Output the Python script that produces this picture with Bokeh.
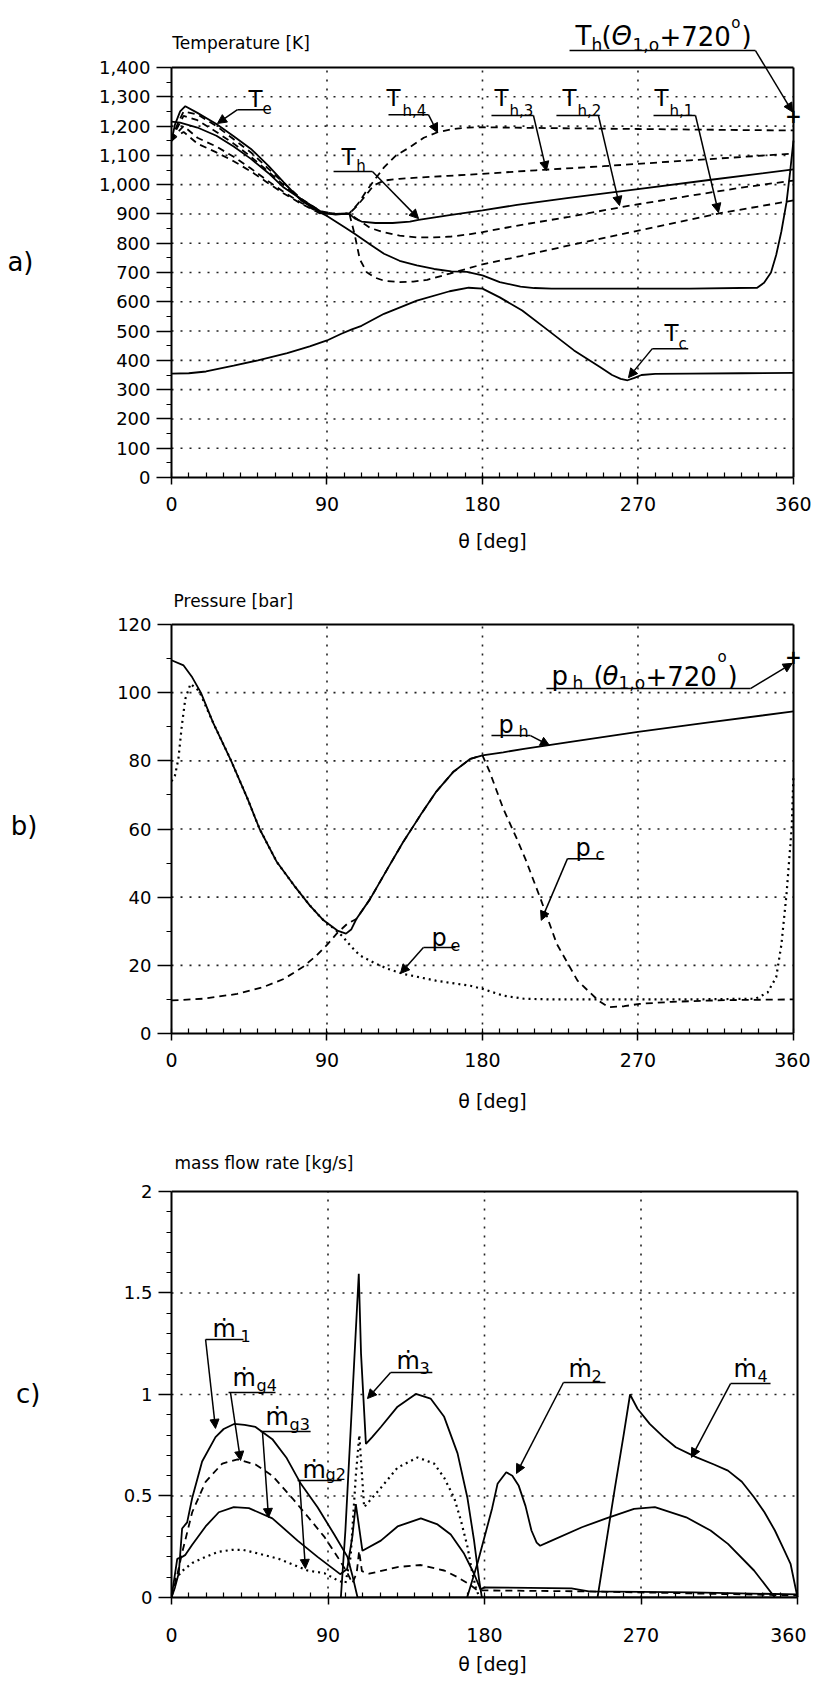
from bokeh.plotting import figure
from bokeh.models import (Label, Arrow, NormalHead, FixedTicker, NumeralTickFormatter,
                          Range1d, LinearAxis)
from bokeh.layouts import column
from bokeh.embed import file_html
from bokeh.resources import INLINE

FONT = "DejaVu Sans"

# ---------------- panel a : temperature [K] ----------------
theta_Te = [0, 2, 5, 8, 15, 26, 36, 46, 56, 65, 75, 86, 90, 100, 106, 115, 123, 132, 142, 152,
            162, 171, 180, 190, 202, 210, 220, 260, 300, 339, 343, 347, 350, 353, 356, 358, 360]
Te = [1150, 1205, 1250, 1268, 1245, 1207, 1165, 1122, 1065, 1008, 946, 905, 893, 855, 832, 796, 764, 740, 724, 712,
      704, 702, 690, 667, 652, 647, 645, 645, 645, 648, 665, 700, 760, 840, 940, 1040, 1150]

theta_Th = [0, 5, 15, 26, 36, 46, 56, 65, 75, 86, 90, 95, 100, 103, 106, 110, 118, 128, 138, 143,
            160, 180, 200, 230, 270, 310, 360]
Th = [1215, 1212, 1195, 1167, 1130, 1088, 1040, 990, 951, 910, 902, 898, 900, 900, 885, 874, 869, 869, 874, 880,
      895, 912, 931, 955, 985, 1015, 1052]

theta_Th4 = [0, 3, 7, 15, 26, 36, 46, 56, 65, 75, 86, 95, 103, 108, 113, 118, 123, 130, 138, 146,
             154, 163, 172, 180, 220, 270, 320, 360]
Th4 = [1150, 1200, 1250, 1240, 1200, 1155, 1110, 1055, 1005, 952, 910, 900, 902, 935, 980, 1020, 1059, 1100, 1128, 1160,
       1179, 1190, 1195, 1196, 1193, 1190, 1187, 1185]

theta_Th3 = [0, 3, 7, 15, 26, 36, 46, 56, 65, 75, 86, 95, 103, 107, 110, 114, 117, 123, 132, 142,
             160, 180, 211, 250, 300, 360]
Th3 = [1150, 1190, 1235, 1220, 1180, 1140, 1095, 1045, 998, 950, 908, 900, 902, 925, 946, 975, 997, 1014, 1020, 1024,
       1030, 1037, 1049, 1063, 1083, 1106]

theta_Th2 = [0, 3, 7, 15, 26, 36, 46, 56, 65, 75, 86, 95, 103, 108, 115, 123, 132, 142, 152, 162,
             172, 180, 202, 230, 262, 300, 330, 360]
Th2 = [1150, 1175, 1200, 1160, 1130, 1095, 1055, 1012, 975, 938, 903, 900, 900, 880, 852, 837, 826, 820, 820, 823,
       830, 838, 862, 890, 925, 962, 990, 1014]

theta_Th1 = [0, 3, 7, 15, 26, 36, 46, 56, 65, 75, 86, 95, 103, 106, 109, 113, 118, 123, 132, 140,
             148, 161, 180, 202, 240, 280, 317, 360]
Th1 = [1150, 1165, 1180, 1140, 1110, 1080, 1045, 1005, 970, 935, 902, 900, 900, 830, 745, 701, 682, 672, 667, 669,
       675, 696, 728, 756, 805, 855, 902, 946]

theta_Tc = [0, 10, 20, 36, 50, 67, 80, 90, 98, 104, 110, 123, 142, 161, 172, 180, 190, 203, 215, 233,
            248, 255, 260, 264, 268, 272, 280, 300, 330, 360]
Tc = [355, 356, 362, 382, 400, 425, 448, 468, 490, 505, 518, 559, 604, 636, 648, 645, 615, 570, 516, 434,
      377, 350, 337, 332, 340, 350, 354, 355, 356, 357]

Th_720 = 1235          # T_h(theta_1,0 + 720 deg), marked "+"

T_ticks = list(range(0, 1401, 100))
T_minor = list(range(0, 1401, 50))
T_grid = list(range(100, 1301, 100))

# ---------------- panel b : pressure [bar] ----------------
theta_ph = [0, 7, 12, 17, 24, 34, 44, 51, 61, 71, 80, 88, 96, 101, 104, 107, 115, 125, 134, 144,
            153, 163, 173, 180, 192, 204, 230, 270, 310, 360]
ph = [109.5, 108, 104.5, 100, 91.3, 80.6, 68.9, 60, 50.3, 43.4, 37.6, 33.2, 30.2, 29.3, 30.5, 33.6, 39.5, 48.3, 56.1, 64,
      70.8, 76.7, 80.6, 81.6, 82.5, 83.5, 85.5, 88.5, 91.2, 94.5]

theta_pc = [0, 18, 38, 53, 65, 76, 84, 90, 96, 102, 107, 115, 125, 134, 144, 153, 163, 173, 180, 184,
            192, 200, 205, 214, 223, 235, 247, 253, 262, 271, 290, 320, 360]
pc = [9.7, 10.2, 11.6, 13.6, 16, 19.5, 22.9, 26, 29.5, 32.3, 33.6, 39.5, 48.3, 56.1, 64, 70.8, 76.7, 80.6, 81.6, 77,
      66, 57, 51, 39, 26.3, 15.5, 9.7, 7.7, 8, 8.7, 9.3, 9.8, 10]

theta_pe = [0, 2, 4, 6, 8, 11, 16, 24, 34, 44, 51, 61, 71, 80, 88, 95, 99, 104, 109, 117,
            125, 134, 153, 173, 180, 192, 204, 220, 260, 300, 338, 345, 350, 353, 356, 359, 360]
pe = [74, 75.7, 80.6, 90.4, 98.2, 102.6, 100.5, 91.3, 80.6, 68.9, 60, 50.3, 43.4, 37.6, 33.2, 30.4, 28.5, 25.5, 22.9, 20.8,
      19, 17.5, 15.5, 14, 13.1, 11.1, 10.2, 10, 10, 10, 10.2, 12, 16.5, 26, 41, 60.5, 76]

ph_720 = 110.5         # p_h(theta_1,0 + 720 deg), marked "+"

P_ticks = list(range(0, 121, 20))
P_minor = list(range(0, 121, 10))
P_grid = list(range(20, 101, 20))

# ---------------- panel c : mass flow rate [kg/s] ----------------
theta_m1 = [0, 2, 4.2, 6.1, 9, 11.9, 17.6, 25.3, 30, 36, 42, 48.3, 58, 66, 74.4, 84, 93.6, 101.2, 104, 107, 360]
m1 = [0, 0.05, 0.12, 0.34, 0.37, 0.49, 0.67, 0.79, 0.83, 0.855, 0.85, 0.84, 0.78, 0.69, 0.56, 0.445, 0.31, 0.2, 0.11, 0, 0]

theta_mg4 = [0, 3, 6.1, 11.9, 19.6, 29.2, 38, 48.3, 58, 69.4, 78.2, 87.8, 95.5, 101.2, 104, 106.5, 107.9, 109.5, 113.7, 130,
             143.4, 156.8, 164.5, 172.2, 176, 180, 240, 300, 360]
mg4 = [0, 0.1, 0.22, 0.42, 0.57, 0.66, 0.68, 0.655, 0.6, 0.49, 0.40, 0.30, 0.2, 0.12, 0.07, 0.12, 0.23, 0.13, 0.117, 0.15,
       0.16, 0.133, 0.1, 0.06, 0.035, 0.035, 0.03, 0.02, 0.01]

theta_mg3 = [0, 3.3, 6.1, 8, 11.9, 19.6, 27.2, 35.8, 44.5, 58, 72.5, 84, 97, 101, 104, 106, 109.8, 120.4, 130, 143.4,
             153, 160.6, 168.3, 174, 177.7, 180, 230, 240, 300, 360]
mg3 = [0, 0.19, 0.2, 0.21, 0.26, 0.35, 0.42, 0.445, 0.44, 0.39, 0.28, 0.2, 0.115, 0.14, 0.3, 0.46, 0.23, 0.28, 0.35, 0.39,
       0.36, 0.31, 0.215, 0.117, 0.04, 0.05, 0.045, 0.03, 0.025, 0.015]

theta_mg2 = [0, 2.3, 6, 11.9, 19.6, 27, 34.9, 41, 48.3, 61.8, 78.2, 87.8, 95.5, 100, 103, 106, 108, 110.8, 120.4, 130,
             141.5, 151, 156.8, 162.6, 166.4, 170.2, 173, 175, 177]
mg2 = [0, 0.09, 0.13, 0.17, 0.2, 0.225, 0.235, 0.235, 0.22, 0.19, 0.133, 0.12, 0.085, 0.07, 0.2, 0.6, 0.8, 0.445, 0.54, 0.64,
       0.69, 0.66, 0.59, 0.49, 0.38, 0.25, 0.12, 0.05, 0]

theta_m3 = [97.4, 100, 103, 105, 107.7, 109, 111.8, 115.4, 120.4, 130, 140.5, 149, 156.8, 164.5, 170.2, 174, 177, 178.5]
m3 = [0, 0.33, 0.82, 1.15, 1.595, 1.2, 0.757, 0.79, 0.84, 0.94, 1.003, 0.98, 0.89, 0.71, 0.49, 0.28, 0.08, 0]

theta_m2 = [170, 176, 181, 184.4, 187.5, 192.5, 196, 199.7, 203.6, 207, 210, 212, 216, 236, 250, 266, 278, 296, 310, 320, 335, 347]
m2 = [0, 0.17, 0.33, 0.44, 0.56, 0.617, 0.6, 0.55, 0.45, 0.33, 0.27, 0.255, 0.27, 0.346, 0.39, 0.437, 0.445, 0.395, 0.33, 0.264, 0.133, 0]

theta_m4 = [245, 250, 255, 260, 263.7, 268, 275, 283, 290, 302, 312, 320, 328, 335, 341, 347, 352, 356, 360]
m4 = [0, 0.27, 0.54, 0.8, 1.0, 0.93, 0.855, 0.79, 0.74, 0.69, 0.655, 0.625, 0.57, 0.494, 0.42, 0.33, 0.24, 0.166, 0]

M_ticks = [0, 0.5, 1, 1.5, 2]
M_minor = [i / 10 for i in range(0, 21)]
M_grid = [0.5, 1, 1.5]

theta_ticks = [0, 90, 180, 270, 360]
theta_minor = list(range(0, 361, 10))
theta_grid = [90, 180, 270]

GRID = dict(line_color="#222222", line_dash="2 7", line_width=1.6)


# ---------------- helpers ----------------
def make_fig(fh, fw, left, bottom, xmax, ymax, yticks, yminor, ygrid, yfmt,
             ytick_out, ystand, xstand, xlabstand, letter, letter_y, letter_stand):
    x0, x1 = theta_ticks[0], theta_ticks[-1]
    y0, y1 = yticks[0], yticks[-1]
    p = figure(frame_width=fw, frame_height=fh, x_range=Range1d(0, xmax), y_range=Range1d(0, ymax),
               output_backend="svg", toolbar_location=None, title=None,
               min_border_left=left, min_border_right=0, min_border_top=0, min_border_bottom=bottom)
    p.background_fill_color = "white"
    p.border_fill_color = "white"
    p.outline_line_color = None
    p.xgrid.visible = False
    p.ygrid.visible = False

    # dotted grid lines inside the 0..360 x 0..max box
    p.segment(x0=theta_grid, y0=[y0] * len(theta_grid), x1=theta_grid, y1=[y1] * len(theta_grid), **GRID)
    p.segment(x0=[x0] * len(ygrid), y0=ygrid, x1=[x1] * len(ygrid), y1=ygrid, **GRID)

    xa = p.xaxis[0]
    xa.bounds = (x0, x1)
    xa.ticker = FixedTicker(ticks=theta_ticks, minor_ticks=theta_minor)
    xa.axis_line_width = 2
    xa.major_tick_out = 7
    xa.major_tick_in = 0
    xa.minor_tick_in = 5
    xa.minor_tick_out = 0
    xa.major_tick_line_width = 1.5
    xa.minor_tick_line_width = 1.2
    xa.major_label_text_font = FONT
    xa.major_label_text_font_size = "19px"
    xa.major_label_text_color = "black"
    xa.major_label_standoff = xstand
    xa.axis_label = "θ [deg]"
    xa.axis_label_text_font = FONT
    xa.axis_label_text_font_size = "19px"
    xa.axis_label_text_font_style = "normal"
    xa.axis_label_text_color = "black"
    xa.axis_label_standoff = xlabstand

    ya = p.yaxis[0]
    ya.bounds = (y0, y1)
    ya.ticker = FixedTicker(ticks=yticks, minor_ticks=yminor)
    ya.formatter = NumeralTickFormatter(format=yfmt)
    ya.axis_line_width = 2
    ya.major_tick_out = ytick_out
    ya.major_tick_in = 0
    ya.minor_tick_out = 5
    ya.minor_tick_in = 0
    ya.major_tick_line_width = 1.5
    ya.minor_tick_line_width = 1.2
    ya.major_label_text_font = FONT
    ya.major_label_text_font_size = "18px"
    ya.major_label_text_color = "black"
    ya.major_label_standoff = ystand

    # frame: right and top border lines as bare axes at fixed locations
    right = LinearAxis(fixed_location=x1, bounds=(y0, y1), ticker=FixedTicker(ticks=[], minor_ticks=[]),
                       axis_line_width=2, major_tick_out=0, major_tick_in=0, minor_tick_out=0,
                       minor_tick_in=0, major_label_text_font_size="0px")
    p.add_layout(right, "left")
    top = LinearAxis(fixed_location=y1, bounds=(x0, x1), ticker=FixedTicker(ticks=[], minor_ticks=[]),
                     axis_line_width=2, major_tick_out=0, major_tick_in=0, minor_tick_out=0,
                     minor_tick_in=0, major_label_text_font_size="0px")
    p.add_layout(top, "below")

    # panel letter as the only tick label of an extra, invisible left axis
    lab = LinearAxis(ticker=FixedTicker(ticks=[letter_y], minor_ticks=[]),
                     major_label_overrides={letter_y: letter},
                     axis_line_color=None, major_tick_line_color=None, minor_tick_line_color=None,
                     major_tick_out=0, major_tick_in=0, minor_tick_out=0, minor_tick_in=0,
                     major_label_text_font=FONT, major_label_text_font_size="26px",
                     major_label_text_color="black", major_label_standoff=letter_stand)
    p.add_layout(lab, "left")
    return p


def txt(p, x, y, s, size, align="left", baseline="alphabetic", style="normal"):
    p.add_layout(Label(x=x, y=y, text=s, text_font=FONT, text_font_size=f"{size}px",
                       text_align=align, text_baseline=baseline, text_font_style=style,
                       text_color="black"))


def seg(p, x0, y0, x1, y1, head=False):
    end = NormalHead(size=9, fill_color="black", line_color="black", line_width=1) if head else None
    p.add_layout(Arrow(x_start=x0, y_start=y0, x_end=x1, y_end=y1, line_width=1.5,
                       line_color="black", end=end))


SOLID = dict(line_color="black", line_width=1.8)
DASH = dict(line_color="black", line_width=1.8, line_dash="7 5")
DOT = dict(line_color="black", line_width=2.2, line_dash="2 4")

# ---------------- figure a ----------------
fa = make_fig(477, 642, 171, 83, 371.6, 1628.8, T_ticks, T_minor, T_grid, "0,0",
              15, 6, 12, 16, "a)", 737, 62)
fa.line(theta_Tc, Tc, **SOLID)
fa.line(theta_Te, Te, **SOLID)
fa.line(theta_Th, Th, **SOLID)
fa.line(theta_Th4, Th4, **DASH)
fa.line(theta_Th3, Th3, **DASH)
fa.line(theta_Th2, Th2, **DASH)
fa.line(theta_Th1, Th1, **DASH)

txt(fa, 0.5, 1485, "Temperature [K]", 17, baseline="middle")

# T_e
txt(fa, 48.6, 1294, "T", 23, align="center")
txt(fa, 52.7, 1263, "e", 15)
seg(fa, 38.2, 1256, 54.4, 1256)
seg(fa, 38.2, 1256, 26.6, 1209, head=True)
# T_h,4
txt(fa, 128.5, 1297, "T", 23, align="center")
txt(fa, 133.7, 1250, "h,4", 15)
seg(fa, 125.6, 1239, 148.7, 1239)
seg(fa, 148.7, 1239, 154, 1178, head=True)
# T_h
txt(fa, 102.4, 1093, "T", 23, align="center")
txt(fa, 107.0, 1062, "h", 15)
seg(fa, 93.8, 1045, 116.3, 1045)
seg(fa, 116.3, 1045, 143, 884, head=True)
# T_h,3
txt(fa, 191, 1297, "T", 23, align="center")
txt(fa, 195.6, 1250, "h,3", 15)
seg(fa, 185.2, 1236, 209.5, 1236)
seg(fa, 209.5, 1236, 217, 1048, head=True)
# T_h,2
txt(fa, 230.4, 1297, "T", 23, align="center")
txt(fa, 235.0, 1250, "h,2", 15)
seg(fa, 222.8, 1236, 247.1, 1236)
seg(fa, 247.1, 1236, 259.3, 929, head=True)
# T_h,1
txt(fa, 283.6, 1297, "T", 23, align="center")
txt(fa, 288.2, 1250, "h,1", 15)
seg(fa, 279.0, 1236, 303.3, 1236)
seg(fa, 303.3, 1236, 316.6, 905, head=True)
# T_c
txt(fa, 289.4, 492, "T", 23, align="center")
txt(fa, 293.4, 457, "c", 15)
seg(fa, 278.3, 440, 299.1, 440)
seg(fa, 278.3, 440, 264.5, 341, head=True)
# T_h(Theta_1,0 + 720 deg)
txt(fa, 233.8, 1509, "T", 26)
txt(fa, 243.1, 1478, "h", 17)
txt(fa, 248.9, 1509, "(", 26)
txt(fa, 254.7, 1509, "Θ", 26, style="italic")
txt(fa, 266.8, 1478, "1,o", 17)
txt(fa, 282.4, 1509, "+720", 26)
txt(fa, 324.0, 1553, "o", 15)
txt(fa, 329.9, 1509, ")", 26)
seg(fa, 230.4, 1458, 338, 1458)
seg(fa, 338, 1458, 359.5, 1248, head=True)
txt(fa, 360, Th_720, "+", 20, align="center", baseline="middle", style="bold")

# ---------------- figure b ----------------
fb = make_fig(473, 642, 168, 85, 371.6, 138.78, P_ticks, P_minor, P_grid, "0",
              14, 6, 12, 20, "b)", 61, 77)
fb.line(theta_pe, pe, **DOT)
fb.line(theta_pc, pc, **DASH)
fb.line(theta_ph, ph, **SOLID)

txt(fb, 1.2, 127, "Pressure [bar]", 17, baseline="middle")

# p_h (theta_1,0 + 720)
txt(fb, 219.9, 105, "p", 26)
txt(fb, 232.1, 102.7, "h", 17)
txt(fb, 244.2, 105, "(", 26)
txt(fb, 249.5, 105, "θ", 26, style="italic")
txt(fb, 258.7, 102.7, "1,o", 17)
txt(fb, 274.3, 105, "+720", 26)
txt(fb, 316.0, 110.4, "o", 15)
txt(fb, 321.8, 105, ")", 26)
seg(fb, 217, 101.2, 335.1, 101.2)
seg(fb, 335.1, 101.2, 359.3, 108.6, head=True)
txt(fb, 360, ph_720, "+", 20, align="center", baseline="middle", style="bold")
# p_h
txt(fb, 189.3, 90.4, "p", 24)
txt(fb, 200.8, 88.6, "h", 16)
seg(fb, 185.2, 87.4, 207.8, 87.4)
seg(fb, 207.8, 87.4, 218.8, 84.5, head=True)
# p_c
txt(fb, 233.8, 54.3, "p", 24)
txt(fb, 245.4, 52.5, "c", 16)
seg(fb, 229.2, 51.3, 250.6, 51.3)
seg(fb, 229.2, 51.3, 214, 33.2, head=True)
# p_e
txt(fb, 150.5, 27.9, "p", 24)
txt(fb, 161.5, 26.1, "e", 16)
seg(fb, 145.8, 25.2, 164.4, 25.2)
seg(fb, 145.8, 25.2, 132.5, 17.6, head=True)

# ---------------- figure c ----------------
fc = make_fig(479, 642, 164, 82, 369.2, 2.3596, M_ticks, M_minor, M_grid, "0.[0]",
              13, 6, 23, 8, "c)", 1, 80)
fc.line(theta_mg2, mg2, **DOT)
fc.line(theta_mg4, mg4, **DASH)
fc.line(theta_mg3, mg3, **SOLID)
fc.line(theta_m1, m1, **SOLID)
fc.line(theta_m3, m3, **SOLID)
fc.line(theta_m2, m2, **SOLID)
fc.line(theta_m4, m4, **SOLID)

txt(fc, 1.7, 2.138, "mass flow rate [kg/s]", 17, baseline="middle")

mlabels = [
    # m-left, m-base, sub-left, sub-base, sub text, uline x0, x1, y, leader start x, tip x, tip y
    (23.6, 1.325, 39.7, 1.286, "1", 19.6, 41.4, 1.271, 19.6, 25.3, 0.833),
    (35.1, 1.079, 48.9, 1.044, "g4", 32.8, 59.8, 1.010, 33.9, 39.7, 0.675),
    (54.1, 0.887, 67.9, 0.852, "g3", 51.2, 80.0, 0.818, 52.3, 55.8, 0.394),
    (75.3, 0.626, 88.6, 0.606, "g2", 72.5, 97.8, 0.576, 73.6, 77.0, 0.143),
    (129.4, 1.167, 142.6, 1.133, "3", 126.0, 150.0, 1.108, 126.0, 112.7, 0.98),
    (228.3, 1.128, 241.5, 1.089, "2", 225.4, 249.6, 1.059, 225.4, 198.4, 0.611),
    (323.2, 1.128, 337.0, 1.089, "4", 321.5, 344.5, 1.054, 321.5, 299.0, 0.69),
]
for (mx, my, sx, sy, st, u0, u1, uy, lx, tx, ty) in mlabels:
    txt(fc, mx, my, "ṁ", 24)
    txt(fc, sx, sy, st, 16)
    seg(fc, u0, uy, u1, uy)
    seg(fc, lx, uy, tx, ty, head=True)

layout = column(fa, fb, fc)
open("out.html", "w").write(file_html(layout, INLINE))
